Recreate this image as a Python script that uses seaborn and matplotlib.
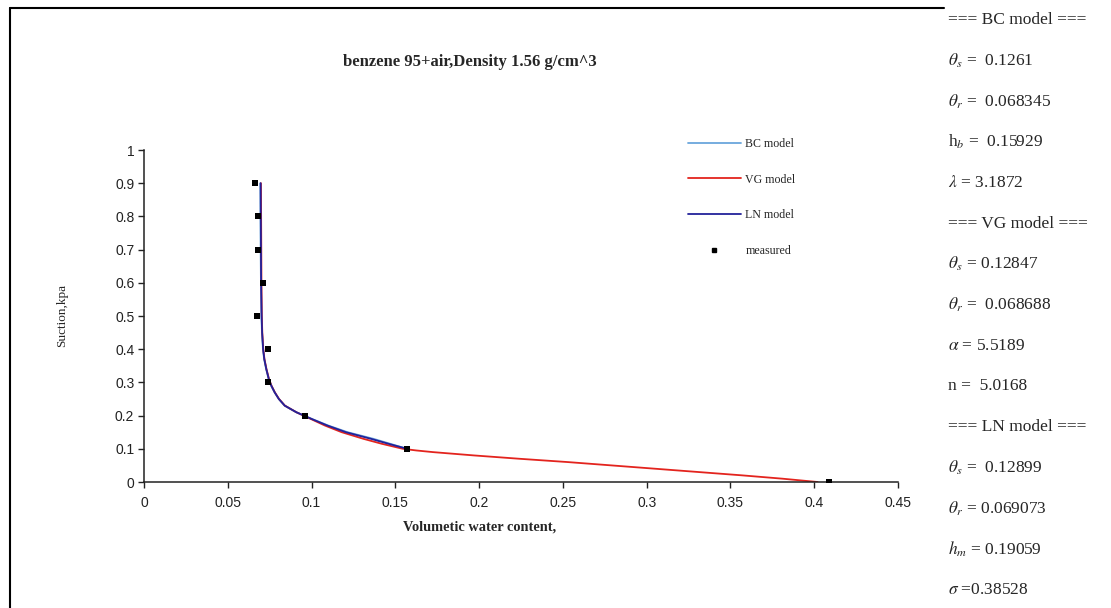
import matplotlib
matplotlib.use("Agg")
import matplotlib.pyplot as plt
from matplotlib.lines import Line2D
import seaborn as sns
import pandas as pd

# ---- data ----
suction_fit = [0.9, 0.8, 0.7, 0.6, 0.5, 0.45, 0.4, 0.37, 0.34, 0.31, 0.29, 0.27, 0.25, 0.23,
               0.21, 0.2, 0.19, 0.17, 0.15, 0.13, 0.115, 0.1]
theta_bc = [0.0694, 0.0695, 0.0696, 0.0698, 0.0701, 0.0704, 0.0710, 0.0717, 0.0729, 0.0744,
            0.0759, 0.0779, 0.0804, 0.0839, 0.0908, 0.0955, 0.1002, 0.1100, 0.1215, 0.1370,
            0.1470, 0.1570]
theta_ln = [0.0696, 0.0697, 0.0698, 0.0699, 0.0702, 0.0705, 0.0711, 0.0718, 0.0730, 0.0745,
            0.0760, 0.0780, 0.0805, 0.0840, 0.0910, 0.0955, 0.1000, 0.1095, 0.1205, 0.1355,
            0.1460, 0.1570]
suction_vg = [0.9, 0.8, 0.7, 0.6, 0.5, 0.45, 0.4, 0.37, 0.34, 0.31, 0.29, 0.27, 0.25, 0.23,
              0.21, 0.2, 0.19, 0.17, 0.15, 0.13, 0.115, 0.1, 0.095, 0.09, 0.08, 0.07, 0.06,
              0.05, 0.04, 0.03, 0.02, 0.01, 0.0]
theta_vg = [0.0698, 0.0699, 0.0700, 0.0701, 0.0703, 0.0706, 0.0712, 0.0719, 0.0731, 0.0746,
            0.0761, 0.0781, 0.0806, 0.0841, 0.0910, 0.0952, 0.0995, 0.1080, 0.1180, 0.1310,
            0.1420, 0.1545, 0.1625, 0.1725, 0.1970, 0.2240, 0.2530, 0.2790, 0.3050, 0.3310,
            0.3570, 0.3810, 0.4020]
theta_meas = [0.0662, 0.0683, 0.0683, 0.0710, 0.0672, 0.0738, 0.0742, 0.0959, 0.1570, 0.4090]
suction_meas = [0.9, 0.8, 0.7, 0.6, 0.5, 0.4, 0.3, 0.2, 0.1, 0.0]

x_ticks = [0, 0.05, 0.1, 0.15, 0.2, 0.25, 0.3, 0.35, 0.4, 0.45]
x_ticklabels = ["0", "0.05", "0.1", "0.15", "0.2", "0.25", "0.3", "0.35", "0.4", "0.45"]
y_ticks = [0, 0.1, 0.2, 0.3, 0.4, 0.5, 0.6, 0.7, 0.8, 0.9, 1.0]
y_ticklabels = ["0", "0.1", "0.2", "0.3", "0.4", "0.5", "0.6", "0.7", "0.8", "0.9", "1"]

title = "benzene 95+air,Density 1.56 g/cm^3"
xlabel = "Volumetic water content,"
ylabel = "Suction,kpa"

panel_lines = [
    "=== BC model ===",
    r"$\theta_{s}$ =  0.1261",
    r"$\theta_{r}$ =  0.068345",
    r"h$_{b}$ =  0.15929",
    r"$\lambda$ = 3.1872",
    "=== VG model ===",
    r"$\theta_{s}$ = 0.12847",
    r"$\theta_{r}$ =  0.068688",
    r"$\alpha$ = 5.5189",
    "n =  5.0168",
    "=== LN model ===",
    r"$\theta_{s}$ =  0.12899",
    r"$\theta_{r}$ = 0.069073",
    r"$h_{m}$ = 0.19059",
    r"$\sigma$ =0.38528",
]

c_bc = "#6aa6dc"
c_vg = "#e3241e"
c_ln = "#23229a"

# ---- style ----
sns.set_style("ticks")
plt.rcParams["font.family"] = ["Liberation Sans", "DejaVu Sans"]
plt.rcParams["mathtext.fontset"] = "stix"

W, H = 1111, 608
fig = plt.figure(figsize=(W / 100, H / 100), dpi=100)
ax = fig.add_axes([144 / W, 1 - 482 / H, (898 - 144) / W, (482 - 150) / H])

df_bc = pd.DataFrame({"theta": theta_bc, "h": suction_fit})
df_vg = pd.DataFrame({"theta": theta_vg, "h": suction_vg})
df_ln = pd.DataFrame({"theta": theta_ln, "h": suction_fit})
df_m = pd.DataFrame({"theta": theta_meas, "h": suction_meas})

sns.lineplot(data=df_bc, x="theta", y="h", sort=False, estimator=None, color=c_bc, lw=1.3, ax=ax)
sns.lineplot(data=df_vg, x="theta", y="h", sort=False, estimator=None, color=c_vg, lw=1.3, ax=ax)
sns.lineplot(data=df_ln, x="theta", y="h", sort=False, estimator=None, color=c_ln, lw=1.3, ax=ax)
sns.scatterplot(data=df_m, x="theta", y="h", marker="s", s=14, color="black", edgecolor="black",
                linewidth=0, ax=ax, zorder=5)

ax.set_xlim(0, 0.45)
ax.set_ylim(0, 1)
ax.set_xticks(x_ticks)
ax.set_xticklabels(x_ticklabels)
ax.set_yticks(y_ticks)
ax.set_yticklabels(y_ticklabels)
ax.tick_params(axis="both", direction="out", length=4, width=1, labelsize=10, color="#222222",
               labelcolor="#222222", pad=4)
ax.tick_params(axis="x", pad=6)
ax.tick_params(axis="y", pad=3)
for side in ["top", "right"]:
    ax.spines[side].set_visible(False)
for side in ["left", "bottom"]:
    ax.spines[side].set_linewidth(1.1)
    ax.spines[side].set_color("#222222")
ax.set_xlabel("")
ax.set_ylabel("")

serif = ["Liberation Serif", "DejaVu Serif"]
fig.text(470 / W, 1 - 62 / H, title, ha="center", va="center", fontsize=12,
         fontweight="bold", family=serif)
fig.text(480 / W, 1 - 527 / H, xlabel, ha="center", va="center", fontsize=10.4,
         fontweight="bold", family=serif)
fig.text(62 / W, 1 - 315 / H, ylabel, ha="center", va="center", fontsize=9.5,
         rotation=90, family=serif)

handles = [
    Line2D([], [], color=c_bc, lw=1.3),
    Line2D([], [], color=c_vg, lw=1.3),
    Line2D([], [], color=c_ln, lw=1.3),
    Line2D([], [], color="black", marker="s", markersize=3, linestyle="none"),
]
labels = ["BC model", "VG model", "LN model", "measured"]
fig.legend(handles, labels, loc="upper left", bbox_to_anchor=(682 / W, 1 - 132 / H),
           frameon=False, prop={"family": serif, "size": 8.6}, handlelength=4.4,
           handletextpad=0.4, labelspacing=1.98, borderpad=0)

# outer frame (top and left edges visible)
fig.add_artist(Line2D([10 / W, 944 / W], [1 - 8 / H, 1 - 8 / H], color="black", lw=1.5,
                      transform=fig.transFigure))
fig.add_artist(Line2D([10 / W, 10 / W], [1 - 8 / H, 0], color="black", lw=1.5,
                      transform=fig.transFigure))

# parameter panel
y0, step = 20, (590 - 20) / 14
for i, s in enumerate(panel_lines):
    fig.text(948 / W, 1 - (y0 + i * step) / H, s, ha="left", va="center", fontsize=12.5,
             family=serif)

fig.savefig("out.png", dpi=100)
